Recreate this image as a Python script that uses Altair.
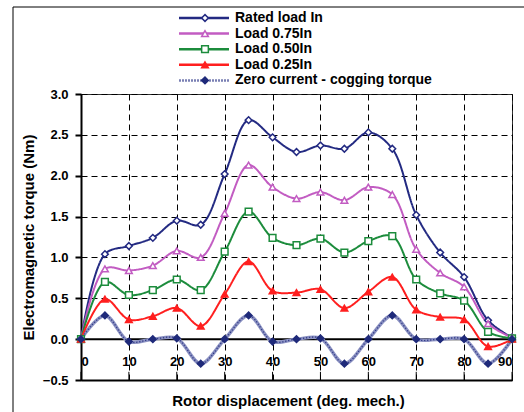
import altair as alt
import pandas as pd

# ---- data ----
x_deg = [0, 5, 10, 15, 20, 25, 30, 35, 40, 45, 50, 55, 60, 65, 70, 75, 80, 85, 90]
rated = [0.0, 1.04, 1.14, 1.24, 1.45, 1.40, 2.02, 2.68, 2.47, 2.29, 2.37, 2.33, 2.53, 2.33, 1.52, 1.06, 0.76, 0.23, 0.02]
load075 = [0.0, 0.86, 0.84, 0.90, 1.08, 1.00, 1.54, 2.13, 1.86, 1.72, 1.80, 1.70, 1.86, 1.77, 1.10, 0.81, 0.64, 0.19, 0.02]
load050 = [0.0, 0.70, 0.54, 0.60, 0.73, 0.60, 1.07, 1.56, 1.24, 1.15, 1.23, 1.06, 1.20, 1.26, 0.73, 0.56, 0.47, 0.09, 0.01]
load025 = [0.0, 0.49, 0.24, 0.28, 0.38, 0.16, 0.55, 0.95, 0.59, 0.57, 0.61, 0.38, 0.58, 0.76, 0.36, 0.27, 0.24, -0.09, 0.0]
cogging = [0.0, 0.29, -0.03, 0.0, 0.01, -0.30, 0.0, 0.29, -0.03, 0.0, 0.01, -0.30, 0.0, 0.29, 0.0, 0.0, 0.0, -0.30, 0.0]
series_names = ["Rated load In", "Load 0.75In", "Load 0.50In", "Load 0.25In",
                "Zero current - cogging torque"]
marker_keys = ["m0", "m1", "m2", "m3", "m4"]
x_ticks = [0, 10, 20, 30, 40, 50, 60, 70, 80, 90]
y_ticks = [-0.5, 0.0, 0.5, 1.0, 1.5, 2.0, 2.5, 3.0]

rows = []
for name, key, vals in zip(series_names, marker_keys, [rated, load075, load050, load025, cogging]):
    for d, v in zip(x_deg, vals):
        rows.append({"deg": d, "torque": v, "series": name, "marker": key})
df = pd.DataFrame(rows)
tick_df = pd.DataFrame({"deg": x_ticks})
one = pd.DataFrame({"k": [0]})

# ---- styles ----
FONT = "Liberation Sans"
line_colors = ["#232a82", "#c25cc2", "#1c8c3c", "#ff1f1f", "#7a80b4"]
pt_strokes = ["#232a82", "#c25cc2", "#1c8c3c", "#ff1f1f", "#1f2a7a"]
pt_fills = ["white", "white", "white", "#ff1f1f", "#1f2a7a"]
shapes = ["diamond", "triangle-up", "square", "triangle-up", "diamond"]
dashes = [[1, 0], [1, 0], [1, 0], [1, 0], [2, 1]]

xs = alt.Scale(domain=[0, 90], nice=False, zero=False)
ys = alt.Scale(domain=[-0.5, 3.0], nice=False, zero=False)

x_axis = alt.Axis(values=x_ticks, format="d", title="Rotor displacement (deg. mech.)",
                  labelFont=FONT, labelFontSize=13, labelFontWeight="bold", labelColor="black",
                  labelPadding=-25, ticks=False, domain=True, domainColor="black", domainWidth=2,
                  grid=True, gridColor="black", gridDash=[6, 4], gridWidth=1,
                  titleFont=FONT, titleFontSize=15, titleFontWeight="bold", titleColor="black",
                  titleY=20, titleBaseline="middle", titleX=207)
y_axis = alt.Axis(values=y_ticks, format=".1f", title="Electromagnetic torque (Nm)",
                  labelFont=FONT, labelFontSize=13, labelFontWeight="bold", labelColor="black",
                  labelPadding=7, tickSize=6, tickColor="black", tickWidth=2,
                  domain=True, domainColor="black", domainWidth=2,
                  grid=True, gridColor="black", gridDash=[6, 4], gridWidth=1,
                  titleFont=FONT, titleFontSize=15, titleFontWeight="bold", titleColor="black",
                  titlePadding=6)

X = alt.X("deg:Q", scale=xs, axis=x_axis)
Y = alt.Y("torque:Q", scale=ys, axis=y_axis)

legA = alt.Legend(title=None, orient="none", legendX=116, legendY=-83,
                  symbolType="M-5,0H5", symbolSize=100, symbolStrokeWidth=2.5,
                  labelFont=FONT, labelFontSize=14, labelFontWeight="bold", labelColor="black",
                  rowPadding=1.6, labelOffset=24, labelLimit=400)
legB = alt.Legend(title=None, orient="none", legendX=117, legendY=-83,
                  symbolSize=45, symbolStrokeWidth=1.5,
                  labelFont=FONT, labelFontSize=14, labelFontWeight="bold",
                  labelExpr="''", rowPadding=1.6, labelOffset=0, labelLimit=400)

base = alt.Chart(df).encode(x=X, y=Y)

cog_base = base.transform_filter(alt.datum.series == series_names[4]).mark_line(
    strokeWidth=3.5, interpolate="catmull-rom", color="#9096c6")

lines = base.mark_line(strokeWidth=2, interpolate="catmull-rom").encode(
    color=alt.Color("series:N", scale=alt.Scale(domain=series_names, range=line_colors), legend=legA),
    strokeDash=alt.StrokeDash("series:N", scale=alt.Scale(domain=series_names, range=dashes), legend=legA),
    order=alt.Order("deg:Q"),
)

cog_overlay = base.transform_filter(alt.datum.series == series_names[4]).mark_line(
    strokeWidth=1.2, interpolate="catmull-rom", color="#2a3585", strokeDash=[1, 2])

points = base.mark_point(size=45, opacity=1, strokeWidth=1.5).encode(
    shape=alt.Shape("marker:N", scale=alt.Scale(domain=marker_keys, range=shapes), legend=legB),
    fill=alt.Fill("marker:N", scale=alt.Scale(domain=marker_keys, range=pt_fills), legend=legB),
    stroke=alt.Stroke("marker:N", scale=alt.Scale(domain=marker_keys, range=pt_strokes), legend=legB),
)

zero_line = alt.Chart(one).mark_rule(color="black", strokeWidth=2).encode(y=alt.datum(0))

ticks = alt.Chart(tick_df).mark_rule(color="black", strokeWidth=1).encode(
    x=alt.X("deg:Q", scale=xs, axis=x_axis), y=alt.datum(-0.5), y2=alt.datum(-0.4))

frame = alt.Chart(one).mark_rect(fillOpacity=0, stroke="black", strokeWidth=1).encode(
    x=alt.value(-68), x2=alt.value(500), y=alt.value(-87), y2=alt.value(400))

chart = alt.layer(zero_line, ticks, cog_base, lines, cog_overlay, points, frame).properties(
    width=431, height=286,
    autosize=alt.AutoSizeParams(type="none"),
    padding={"left": 81, "top": 94, "right": 12, "bottom": 32},
    background="white",
).configure_view(stroke="#333333", strokeWidth=1)

chart.save("out.html", embed_options={"renderer": "svg", "actions": False})
